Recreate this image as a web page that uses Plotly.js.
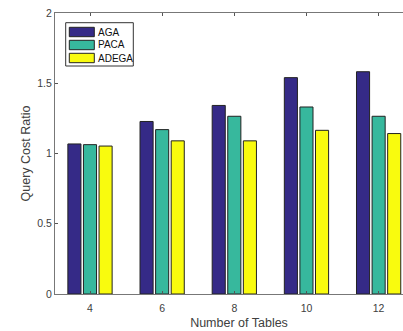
<!DOCTYPE html>
<html>
<head>
<meta charset="utf-8">
<script src="https://cdn.plot.ly/plotly-3.0.1.min.js"></script>
<style>
html,body{margin:0;padding:0;overflow:hidden;background:#fff;}
#chart{width:423px;height:331px;}
</style>
</head>
<body>
<div id="chart"></div>
<script>
var tables = [4, 6, 8, 10, 12];
var tickLabels = ['4', '6', '8', '10', '12'];
var seriesNames = ['AGA', 'PACA', 'ADEGA'];
var aga = [1.068, 1.228, 1.342, 1.540, 1.582];
var paca = [1.063, 1.170, 1.265, 1.331, 1.265];
var adega = [1.053, 1.090, 1.090, 1.165, 1.142];
var colors = ['#352a87', '#37b89d', '#f9fb0e'];

var values = [aga, paca, adega];
var traces = values.map(function (v, i) {
  return {
    type: 'bar',
    x: tables,
    y: v,
    name: seriesNames[i],
    marker: {color: colors[i], line: {color: '#222', width: 1}},
    hoverinfo: 'x+y+name'
  };
});

// plot-area geometry (pixels) used to place the hand-drawn legend box
var W = 423, H = 331, ML = 55, MR = 0, MT = 13, MB = 37;
var PW = W - ML - MR, PH = H - MT - MB;
function px(x) { return (x - ML) / PW; }
function py(y) { return 1 - (y - MT) / PH; }

var shapes = [{
  type: 'rect', xref: 'paper', yref: 'paper',
  x0: px(65.7), x1: px(133.3), y0: py(66), y1: py(22.7),
  line: {color: '#333', width: 1}, fillcolor: '#fff', layer: 'above'
}];
var annotations = [];
var rowCenters = [32, 45, 58];
seriesNames.forEach(function (name, i) {
  var c = rowCenters[i];
  shapes.push({
    type: 'rect', xref: 'paper', yref: 'paper',
    x0: px(69.3), x1: px(94.3), y0: py(c + 4.7), y1: py(c - 4.7),
    line: {color: '#222', width: 1}, fillcolor: colors[i], layer: 'above'
  });
  annotations.push({
    xref: 'paper', yref: 'paper', x: px(95.5), y: py(c),
    xanchor: 'left', yanchor: 'middle', showarrow: false,
    text: name, font: {size: 10, color: '#111'}
  });
});

var layout = {
  width: W,
  height: H,
  margin: {l: ML, r: MR, t: MT, b: MB},
  paper_bgcolor: '#fff',
  plot_bgcolor: '#fff',
  font: {family: 'Liberation Sans, Arial, sans-serif', size: 10, color: '#404040'},
  barmode: 'group',
  bargap: 0.352,
  bargroupgap: 0.16,
  showlegend: false,
  shapes: shapes,
  annotations: annotations,
  xaxis: {
    range: [3.03, 13.23],
    tickvals: tables,
    ticktext: tickLabels,
    ticks: 'inside', ticklen: 3, tickcolor: '#555', tickwidth: 1,
    ticklabelstandoff: 4,
    showline: true, linecolor: '#777', linewidth: 1, mirror: 'ticks',
    showgrid: false, zeroline: false,
    tickfont: {size: 10.5, color: '#404040'},
    title: {text: 'Number of Tables', font: {size: 12.5, color: '#404040'}, standoff: 5}
  },
  yaxis: {
    range: [0, 2],
    dtick: 0.5,
    ticks: 'inside', ticklen: 3, tickcolor: '#555', tickwidth: 1,
    showline: true, linecolor: '#777', linewidth: 1, mirror: 'ticks',
    showgrid: false, zeroline: false,
    tickfont: {size: 10.5, color: '#404040'},
    title: {text: 'Query Cost Ratio', font: {size: 12.5, color: '#404040'}, standoff: 3}
  }
};

Plotly.newPlot('chart', traces, layout, {displayModeBar: false, staticPlot: true});
</script>
</body>
</html>
